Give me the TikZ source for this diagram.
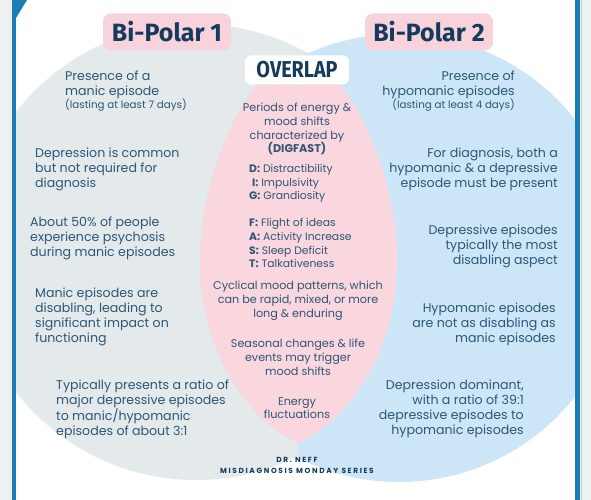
\documentclass[tikz,border=0pt]{standalone}
\usepackage{fontspec}
\setmainfont{Poppins}
\newfontfamily\titlefont{Fira Sans}
\newfontfamily\ovfont{Fira Sans}[FakeStretch=0.86]
\newfontfamily\footfont{Poppins}[LetterSpace=22]
\definecolor{bgout}{HTML}{EEF0F2}
\definecolor{frameblue}{HTML}{1B7DB4}
\definecolor{grayc}{HTML}{E4E9EC}
\definecolor{bluec}{HTML}{CDE6F7}
\definecolor{pinkc}{HTML}{FAD6DE}
\definecolor{labelpink}{HTML}{F8D3DB}
\definecolor{bodytext}{HTML}{2E5675}
\definecolor{titletext}{HTML}{143A5C}
\begin{document}
\begin{tikzpicture}[x=1pt,y=-1pt,
  labelbox/.style={fill=labelpink,rounded corners=8pt,minimum width=128pt,minimum height=37pt,inner sep=0pt,
    text=titletext,font=\titlefont\bfseries\fontsize{25}{28}\selectfont},
  ovbox/.style={fill=white,rounded corners=6pt,minimum width=104pt,minimum height=29pt,inner sep=0pt,
    text=titletext,font=\ovfont\bfseries\fontsize{23}{25}\selectfont},
  lefttext/.style={anchor=north west,inner sep=0pt,align=left,text=bodytext,font=\fontsize{12.6}{15}\selectfont},
  righttext/.style={anchor=north east,inner sep=0pt,align=right,text=bodytext,font=\fontsize{12.6}{15}\selectfont},
  midtext/.style={anchor=north,inner sep=0pt,align=center,text=bodytext,font=\fontsize{11.2}{13.7}\selectfont},
  listtext/.style={anchor=north west,inner sep=0pt,align=left,text=bodytext,font=\fontsize{10.8}{13.6}\selectfont},
  foottext/.style={anchor=north,inner sep=0pt,align=center,text=titletext,font=\footfont\bfseries\fontsize{7.4}{11.5}\selectfont}
]
\useasboundingbox (0,0) rectangle (591,500);
\fill[bgout] (0,0) rectangle (591,500);
\fill[white] (16,0) rectangle (575,500);
\coordinate (T) at (298.5,58);
\coordinate (B) at (298.5,443);
\begin{scope}
  \clip (16,0) rectangle (575,500);
  \fill[grayc] (196,252) circle [radius=228];
  \begin{scope}
    \clip (298.5,0) -- (T) .. controls (257,58) and (200,160) .. (200,262)
      .. controls (200,350) and (247,420) .. (B) -- (298.5,500) -- (600,500) -- (600,0) -- cycle;
    \fill[bluec] (399,258) circle [radius=224];
  \end{scope}
  \fill[pinkc] (T) .. controls (340,58) and (397,160) .. (397,262)
    .. controls (397,350) and (350,420) .. (B)
    .. controls (247,420) and (200,350) .. (200,262)
    .. controls (200,160) and (257,58) .. (T) -- cycle;
\end{scope}
\fill[frameblue] (12,0) rectangle (16,500);
\fill[frameblue] (575,0) rectangle (580,500);
\fill[frameblue!35] (580.5,0) rectangle (582,500);
\fill[frameblue] (16,0) -- (27,0) -- (16,18) -- cycle;

\node[labelbox] (bp1) at (167,32) {Bi-Polar 1};
\node[labelbox] (bp2) at (429,32) {Bi-Polar 2};
\node[ovbox] (ov) at (297,70) {OVERLAP};

% left column
\node[lefttext] (l1) at (65,71) {Presence of a\\manic episode\\[-2pt]{\fontsize{10.3}{12}\selectfont(lasting at least 7 days)}};
\node[lefttext] (l2) at (35,148) {Depression is common\\but not required for\\diagnosis};
\node[lefttext] (l3) at (30,217) {About 50\% of people\\experience psychosis\\during manic episodes};
\node[lefttext] (l4) at (35,288) {Manic episodes are\\disabling, leading to\\significant impact on\\functioning};
\node[lefttext] (l5) at (56,380) {Typically presents a ratio of\\major depressive episodes\\to manic/hypomanic\\episodes of about 3:1};

% right column
\node[righttext] (r1) at (515,71) {Presence of\\hypomanic episodes\\[-2pt]{\fontsize{10.3}{12}\selectfont(lasting at least 4 days)}};
\node[righttext] (r2) at (558,148) {For diagnosis, both a\\hypomanic \& a depressive\\episode must be present};
\node[righttext] (r3) at (558,225) {Depressive episodes\\typically the most\\disabling aspect};
\node[righttext] (r4) at (556,303) {Hypomanic episodes\\are not as disabling as\\manic episodes};
\node[righttext] (r5) at (524,380) {Depression dominant,\\with a ratio of 39:1\\depressive episodes to\\hypomanic episodes};

% overlap
\node[midtext] (m1) at (297,103) {Periods of energy \&\\mood shifts\\characterized by\\\textbf{(DIGFAST)}};
\node[listtext] (m2) at (249,164) {\textbf{D:} Distractibility\\\hspace*{3pt}\textbf{I:} Impulsivity\\\textbf{G:} Grandiosity\\[13.6pt]\textbf{F:} Flight of ideas\\\textbf{A:} Activity Increase\\\textbf{S:} Sleep Deficit\\\textbf{T:} Talkativeness};
\node[midtext] (m3) at (298,281) {Cyclical mood patterns, which\\can be rapid, mixed, or more\\long \& enduring};
\node[midtext] (m4) at (298,339) {Seasonal changes \& life\\events may trigger\\mood shifts};
\node[midtext] (m5) at (297,397) {Energy\\fluctuations};

% footer
\node[foottext] (f1) at (297,457) {DR. NEFF\\MISDIAGNOSIS MONDAY SERIES};
\end{tikzpicture}
\end{document}
